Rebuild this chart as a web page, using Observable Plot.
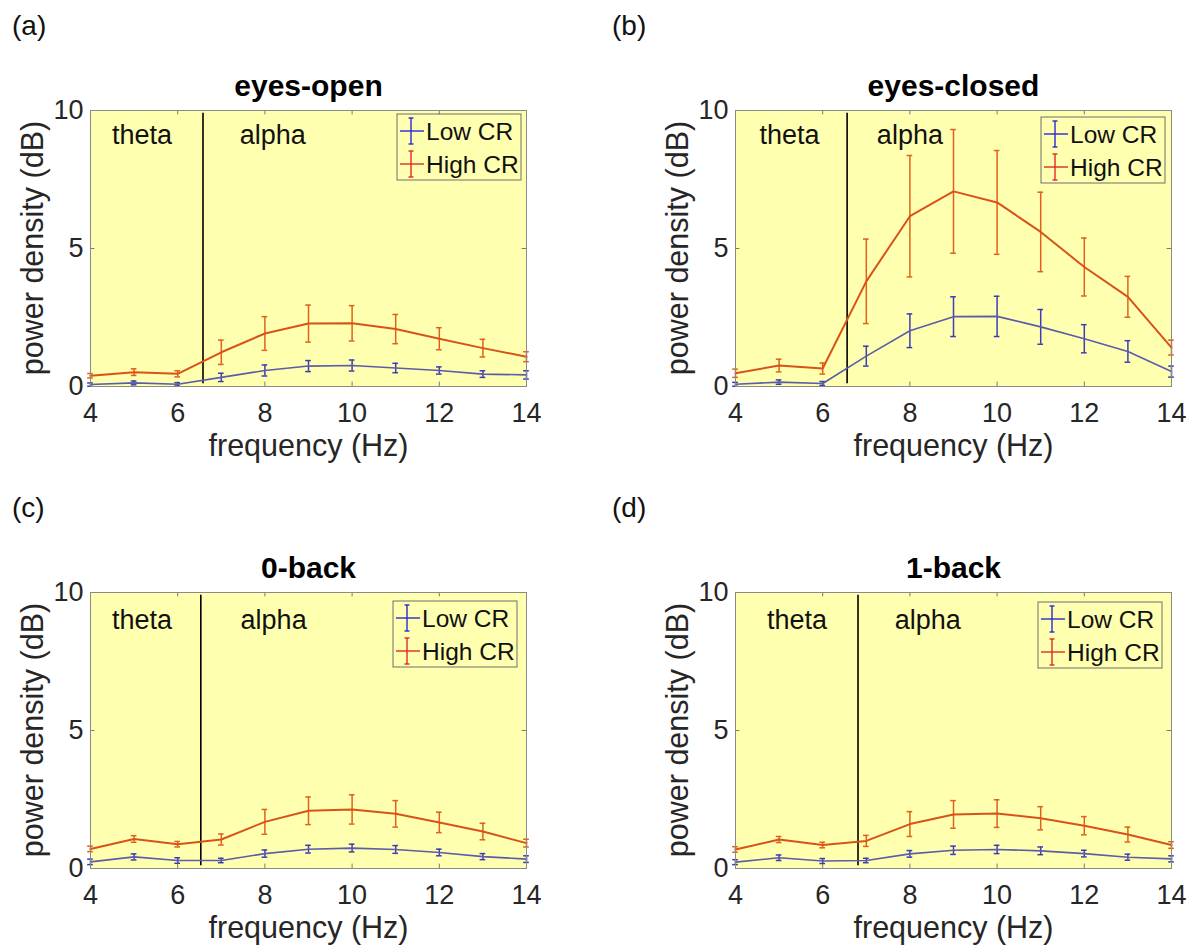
<!DOCTYPE html>
<html><head><meta charset="utf-8">
<script src="https://cdn.jsdelivr.net/npm/d3@7"></script>
<script src="https://cdn.jsdelivr.net/npm/@observablehq/plot@0.6"></script>
<style>
html,body{margin:0;padding:0;background:#fff;overflow:hidden;width:1195px;height:948px;}
#root{position:relative;width:1195px;height:948px;font-family:"Liberation Sans",Arial,sans-serif;}
.panel{position:absolute;}
.plabel{position:absolute;font-size:28px;line-height:28px;color:#111;}
</style></head><body><div id="root"></div>
<script>
// ---------- data ----------
const freq = [4, 5, 6, 7, 8, 9, 10, 11, 12, 13, 14];
const xTicks = [4, 6, 8, 10, 12, 14];
const yTicks = [0, 5, 10];
const seriesNames = ["Low CR", "High CR"];
const panelTitles = ["eyes-open", "eyes-closed", "0-back", "1-back"];
const panelLetters = ["(a)", "(b)", "(c)", "(d)"];
const bandNames = ["theta", "alpha"];
const xLabel = "frequency (Hz)";
const yLabel = "power density (dB)";

const eyesOpenLow      = [0.07, 0.13, 0.08, 0.33, 0.58, 0.74, 0.76, 0.67, 0.58, 0.45, 0.42];
const eyesOpenLowErr   = [0.06, 0.07, 0.06, 0.15, 0.20, 0.20, 0.20, 0.17, 0.13, 0.12, 0.15];
const eyesOpenHigh     = [0.39, 0.52, 0.46, 1.24, 1.92, 2.28, 2.29, 2.08, 1.73, 1.39, 1.08];
const eyesOpenHighErr  = [0.08, 0.12, 0.11, 0.44, 0.61, 0.67, 0.64, 0.53, 0.40, 0.32, 0.18];

const eyesClosedLow     = [0.08, 0.16, 0.11, 1.10, 2.02, 2.53, 2.54, 2.16, 1.73, 1.27, 0.54];
const eyesClosedLowErr  = [0.07, 0.08, 0.07, 0.36, 0.61, 0.72, 0.73, 0.63, 0.51, 0.39, 0.20];
const eyesClosedHigh    = [0.48, 0.76, 0.65, 3.81, 6.17, 7.07, 6.67, 5.60, 4.33, 3.25, 1.41];
const eyesClosedHighErr = [0.15, 0.23, 0.20, 1.53, 2.20, 2.24, 1.88, 1.44, 1.05, 0.74, 0.27];

const zeroBackLow     = [0.24, 0.42, 0.29, 0.29, 0.54, 0.70, 0.74, 0.69, 0.58, 0.43, 0.34];
const zeroBackLowErr  = [0.10, 0.11, 0.10, 0.08, 0.13, 0.14, 0.14, 0.14, 0.12, 0.11, 0.12];
const zeroBackHigh    = [0.71, 1.07, 0.88, 1.05, 1.69, 2.09, 2.14, 1.98, 1.67, 1.34, 0.92];
const zeroBackHighErr = [0.10, 0.12, 0.10, 0.20, 0.45, 0.50, 0.53, 0.48, 0.37, 0.30, 0.14];

const oneBackLow     = [0.23, 0.39, 0.27, 0.29, 0.53, 0.66, 0.69, 0.64, 0.54, 0.41, 0.35];
const oneBackLowErr  = [0.09, 0.10, 0.09, 0.08, 0.12, 0.15, 0.15, 0.14, 0.12, 0.11, 0.11];
const oneBackHigh    = [0.69, 1.05, 0.85, 1.00, 1.61, 1.96, 1.99, 1.82, 1.55, 1.23, 0.85];
const oneBackHighErr = [0.10, 0.11, 0.10, 0.20, 0.45, 0.50, 0.50, 0.42, 0.33, 0.27, 0.12];

// theta/alpha boundary (Hz) per panel
const boundaryHz = [6.58, 6.56, 6.53, 6.81];
// band label anchor positions in data units (x Hz, y dB)
const thetaX = [5.18, 5.24, 5.18, 5.41];
const alphaX = [8.18, 8.00, 8.20, 8.41];
const bandY  = [9.09, 9.10, 9.00, 9.00];

// ---------- styles / layout ----------
const FONT = '"Liberation Sans", Arial, Helvetica, sans-serif';
const BG = "#ffffb0";
const FRAME = "#8a8a8a";
const TICK = "#7a7a7a";
const lineColor = ["#5c5ca8", "#d95319"];
const errColor = ["#3d3db5", "#e0601c"];
const legendColor = ["#2a2ad0", "#e02a2a"];
const FW = 436, FH = 276;

const seriesData = [
  [[eyesOpenLow, eyesOpenLowErr], [eyesOpenHigh, eyesOpenHighErr]],
  [[eyesClosedLow, eyesClosedLowErr], [eyesClosedHigh, eyesClosedHighErr]],
  [[zeroBackLow, zeroBackLowErr], [zeroBackHigh, zeroBackHighErr]],
  [[oneBackLow, oneBackLowErr], [oneBackHigh, oneBackHighErr]]
];

const layout = [
  {left: 0,   top: 60,  width: 580, mL: 90,  legR: 5, legT: 4,  lx: 12,  ly: 12},
  {left: 600, top: 60,  width: 595, mL: 135, legR: 6, legT: 7,  lx: 612, ly: 12},
  {left: 0,   top: 542, width: 580, mL: 90,  legR: 9, legT: 9,  lx: 12,  ly: 494},
  {left: 600, top: 542, width: 595, mL: 135, legR: 9, legT: 10, lx: 612, ly: 494}
];

const root = document.getElementById("root");

layout.forEach((L, k) => {
  const H = 406, mT = 50, mB = H - mT - FH, mR = L.width - L.mL - FW;
  const marks = [
    Plot.frame({fill: BG, stroke: null}),
    Plot.ruleX(xTicks, {x: d => d, y1: 0, y2: 0.16, stroke: TICK}),
    Plot.ruleX(xTicks, {x: d => d, y1: 9.84, y2: 10, stroke: TICK}),
    Plot.ruleY(yTicks, {y: d => d, x1: 4, x2: 4.1, stroke: TICK}),
    Plot.ruleY(yTicks, {y: d => d, x1: 13.9, x2: 14, stroke: TICK}),
    Plot.ruleX([boundaryHz[k]], {x: d => d, y1: 0.1, y2: 9.9, stroke: "#000", strokeWidth: 1.6}),
    Plot.text([
      {x: thetaX[k], y: bandY[k], t: bandNames[0]},
      {x: alphaX[k], y: bandY[k], t: bandNames[1]}
    ], {x: "x", y: "y", text: "t", fontSize: 27, fill: "#111"})
  ];
  seriesData[k].forEach(([vals, errs], s) => {
    const rows = freq.map((f, i) => ({f, v: vals[i], e: errs[i]}));
    marks.push(
      Plot.ruleX(rows, {x: "f", y1: d => d.v - d.e, y2: d => d.v + d.e, stroke: errColor[s], strokeWidth: 1.5}),
      Plot.ruleY(rows, {y: d => d.v - d.e, x1: d => d.f - 0.065, x2: d => d.f + 0.065, stroke: errColor[s], strokeWidth: 1.5}),
      Plot.ruleY(rows, {y: d => d.v + d.e, x1: d => d.f - 0.065, x2: d => d.f + 0.065, stroke: errColor[s], strokeWidth: 1.5}),
      Plot.line(rows, {x: "f", y: "v", stroke: lineColor[s], strokeWidth: s === 1 ? 2 : 1.6})
    );
  });
  marks.push(
    Plot.frame({stroke: FRAME, strokeWidth: 1}),
    Plot.text([panelTitles[k]], {frameAnchor: "top", lineAnchor: "middle", dy: -24, fontSize: 30, fontWeight: "bold", fill: "#000"}),
    Plot.text([xLabel], {frameAnchor: "bottom", lineAnchor: "middle", dy: 60, fontSize: 30.5, fill: "#262626"})
  );

  const svg = Plot.plot({
    width: L.width, height: H,
    marginLeft: L.mL, marginRight: mR, marginTop: mT, marginBottom: mB,
    style: {fontFamily: FONT, fontSize: "27px", color: "#262626", background: "transparent", overflow: "visible"},
    x: {domain: [4, 14], ticks: xTicks, tickSize: 0, tickPadding: 16, label: null, tickFormat: d => String(d)},
    y: {domain: [0, 10], ticks: yTicks, tickSize: 0, tickPadding: 7, label: null, tickFormat: d => String(d)},
    marks
  });

  const sel = d3.select(svg);
  // rotated y axis title
  sel.append("text")
    .attr("transform", `translate(${L.mL - 57},${mT + FH / 2}) rotate(-90)`)
    .attr("text-anchor", "middle").attr("dy", "0.32em")
    .attr("font-family", FONT).attr("font-size", 30.5).attr("fill", "#262626")
    .text(yLabel);

  // legend box (MATLAB style) inside the axes, top-right
  const g = sel.append("g").attr("font-family", FONT);
  const bw = 124, bh = 66;
  const bx = L.mL + FW - L.legR - bw, by = mT + L.legT;
  g.append("rect").attr("x", bx).attr("y", by).attr("width", bw).attr("height", bh)
    .attr("fill", "none").attr("stroke", "#6e6e6e").attr("stroke-width", 1);
  seriesNames.forEach((name, i) => {
    const cy = by + 17 + i * 33, cx = bx + 14;
    const c = legendColor[i];
    g.append("line").attr("x1", bx + 3).attr("x2", bx + 27).attr("y1", cy).attr("y2", cy).attr("stroke", c).attr("stroke-width", 1.4);
    g.append("line").attr("x1", cx).attr("x2", cx).attr("y1", cy - 13).attr("y2", cy + 13).attr("stroke", c).attr("stroke-width", 1.4);
    [cy - 13, cy + 13].forEach(yy => g.append("line").attr("x1", cx - 2.5).attr("x2", cx + 2.5).attr("y1", yy).attr("y2", yy).attr("stroke", c).attr("stroke-width", 1.4));
    g.append("text").attr("x", bx + 29).attr("y", cy).attr("dy", "0.35em")
      .attr("text-anchor", "start").attr("font-size", 24.5).attr("fill", "#111").text(name);
  });

  const wrap = document.createElement("div");
  wrap.className = "panel";
  wrap.style.left = L.left + "px";
  wrap.style.top = L.top + "px";
  wrap.appendChild(svg);
  root.appendChild(wrap);

  const lab = document.createElement("div");
  lab.className = "plabel";
  lab.style.left = L.lx + "px";
  lab.style.top = L.ly + "px";
  lab.textContent = panelLetters[k];
  root.appendChild(lab);
});
</script></body></html>
